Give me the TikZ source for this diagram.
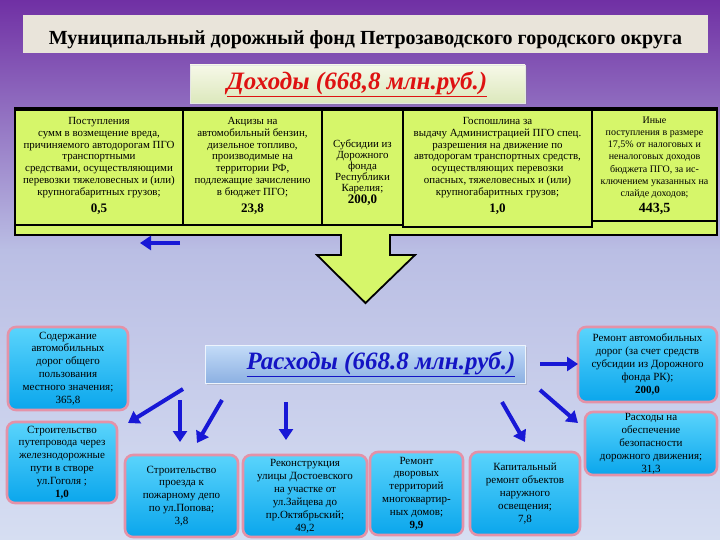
\documentclass[tikz,border=0pt]{standalone}
\usepackage{fontspec}
\setmainfont{Liberation Serif}
\usetikzlibrary{arrows.meta,shadows}
\definecolor{bgtop}{RGB}{112,48,164}
\definecolor{bgmid}{RGB}{186,190,228}
\definecolor{bgbot}{RGB}{214,222,242}
\definecolor{bandcol}{RGB}{214,246,106}
\definecolor{titlecol}{RGB}{233,228,218}
\definecolor{dohtop}{RGB}{246,248,232}
\definecolor{dohbot}{RGB}{220,232,188}
\definecolor{rastop}{RGB}{196,220,248}
\definecolor{rasbot}{RGB}{140,176,226}
\definecolor{cyantop}{RGB}{90,212,252}
\definecolor{cyanbot}{RGB}{10,166,236}
\definecolor{glow}{RGB}{228,146,168}
\definecolor{arrowblue}{RGB}{24,24,214}
\definecolor{redtext}{RGB}{222,18,18}
\definecolor{bluetext}{RGB}{20,20,196}
\begin{document}
\begin{tikzpicture}[x=1pt,y=-1pt,
  titlebox/.style={fill=titlecol, inner sep=0},
  dohbox/.style={top color=dohtop, bottom color=dohbot, draw=white!80!gray, line width=0.6pt, inner sep=0,
     drop shadow={opacity=0.35, shadow xshift=2pt, shadow yshift=-2pt}},
  rasbox/.style={top color=rastop, bottom color=rasbot, draw=white!70!rastop, line width=1pt, inner sep=0,
     drop shadow={opacity=0.25, shadow xshift=1.5pt, shadow yshift=-2pt}},
  inbox/.style={draw=black, line width=1.8pt, fill=bandcol, inner sep=0},
  intext/.style={align=center, inner sep=0, anchor=north, font=\fontsize{10.9}{11.7}\selectfont},
  cbox/.style={draw=glow, line width=2.6pt, rounded corners=8pt, top color=cyantop, bottom color=cyanbot,
     align=center, inner sep=0, font=\fontsize{11}{12.9}\selectfont},
  barrow/.style={draw=arrowblue, line width=4pt, -{Triangle[length=11pt,width=14pt]}}
]
\useasboundingbox (0,0) rectangle (720,540);
% background
\shade[top color=bgtop, bottom color=bgmid] (0,0) rectangle (720,250);
\shade[top color=bgmid, bottom color=bgbot] (0,249) rectangle (720,540);

% title
\node[titlebox, minimum width=685, minimum height=38] (title) at (365.5,34) {};
\node[inner sep=0, font=\fontsize{20}{22}\bfseries\selectfont] (titletext) at (365.5,39.5)
  {Муниципальный дорожный фонд Петрозаводского городского округа};

% income header
\node[dohbox, minimum width=335, minimum height=38] (doh) at (357.5,84) {};
\node[inner sep=0, text=redtext, font=\fontsize{25}{27}\bfseries\itshape\selectfont] (dohtext) at (357,84)
  {\underline{Доходы (668,8 млн.руб.)}};

% yellow band with down arrow
\draw[fill=bandcol, line width=1.8pt, line join=miter]
  (15,108) -- (717,108) -- (717,235) -- (390,235) -- (390,255) -- (415,255) -- (365.5,303)
  -- (317,255) -- (341,255) -- (341,235) -- (15,235) -- cycle;

% income boxes
\node[inbox, minimum width=168, minimum height=115] (in1) at (99,167.5) {};
\node[inbox, minimum width=139, minimum height=115] (in2) at (252.5,167.5) {};
\node[inbox, minimum width=81, minimum height=115] (in3) at (362.5,167.5) {};
\node[inbox, minimum width=189, minimum height=117] (in4) at (497.5,168.5) {};
\node[inbox, minimum width=125, minimum height=111] (in5) at (654.5,165.5) {};

\node[intext] (t1) at (99,117.5) {Поступления\\сумм в возмещение вреда,\\причиняемого автодорогам ПГО\\транспортными\\средствами, осуществляющими\\перевозки тяжеловесных и (или)\\крупногабаритных грузов;\\[6pt]{\fontsize{13}{14}\bfseries\selectfont 0,5}};
\node[intext] (t2) at (252.5,117.5) {Акцизы на\\автомобильный бензин,\\дизельное топливо,\\производимые на\\территории РФ,\\подлежащие зачислению\\в бюджет ПГО;\\[6pt]{\fontsize{13}{14}\bfseries\selectfont 23,8}};
\node[intext, font=\fontsize{10.9}{11}\selectfont] (t3) at (362.5,139) {Субсидии из\\Дорожного\\фонда\\Республики\\Карелия;\\[1pt]{\fontsize{13}{14}\bfseries\selectfont 200,0}};
\node[intext] (t4) at (497.5,117.5) {Госпошлина за\\выдачу Администрацией ПГО спец.\\разрешения на движение по\\автодорогам транспортных средств,\\осуществляющих перевозки\\опасных, тяжеловесных и (или)\\крупногабаритных грузов;\\[6pt]{\fontsize{13}{14}\bfseries\selectfont 1,0}};
\node[intext, font=\fontsize{10}{12.2}\selectfont] (t5) at (654.5,116.5) {Иные\\поступления в размере\\17,5\% от налоговых и\\неналоговых доходов\\бюджета ПГО, за ис-\\ключением указанных на\\слайде доходов;\\[4pt]{\fontsize{14}{15}\bfseries\selectfont 443,5}};

% small left arrow
\coordinate (la1) at (180,243);
\coordinate (la2) at (140,243);
\draw[barrow, line width=3.5pt] (la1) -- (la2);

% expenses header
\node[rasbox, minimum width=320, minimum height=38] (ras) at (365,364) {};
\node[inner sep=0, text=bluetext, font=\fontsize{25}{27}\bfseries\itshape\selectfont] (rastext) at (381,364)
  {\underline{Расходы (668.8 млн.руб.)}};

% expense boxes
\node[cbox, minimum width=120, minimum height=83] (e1) at (68,368.5)
  {Содержание\\автомобильных\\дорог общего\\пользования\\местного значения;\\365,8};
\node[cbox, minimum width=110, minimum height=81] (e2) at (62,462.5)
  {Строительство\\путепровода через\\железнодорожные\\пути в створе\\ул.Гоголя ;\\\textbf{1,0}};
\node[cbox, minimum width=113, minimum height=82] (e3) at (181.5,496)
  {Строительство\\проезда к\\пожарному депо\\по ул.Попова;\\3,8};
\node[cbox, minimum width=124, minimum height=82] (e4) at (305,496)
  {Реконструкция\\улицы Достоевского\\на участке от\\ул.Зайцева до\\пр.Октябрьский;\\49,2};
\node[cbox, minimum width=93, minimum height=83] (e5) at (416.5,493.5)
  {Ремонт\\дворовых\\территорий\\многоквартир-\\ных домов;\\\textbf{9,9}};
\node[cbox, minimum width=110, minimum height=83] (e6) at (525,493.5)
  {Капитальный\\ремонт объектов\\наружного\\освещения;\\7,8};
\node[cbox, minimum width=139, minimum height=75] (e7) at (647.5,364.5)
  {Ремонт автомобильных\\дорог (за счет средств\\субсидии из Дорожного\\фонда РК);\\\textbf{200,0}};
\node[cbox, minimum width=132, minimum height=63] (e8) at (651,443.5) {};
\node[inner sep=0, align=center, font=\fontsize{11}{12.9}\selectfont] (e8text) at (651,444)
  {Расходы на\\обеспечение\\безопасности\\дорожного движения;\\31,3};

% arrow coordinates
\coordinate (s1) at (183,389); \coordinate (d1) at (128,423);
\coordinate (s2) at (180,400); \coordinate (d2) at (180,442);
\coordinate (s3) at (222,400); \coordinate (d3) at (197,443);
\coordinate (s4) at (286,402); \coordinate (d4) at (286,440);
\coordinate (s5) at (502,402); \coordinate (d5) at (525,442);
\coordinate (s6) at (540,364); \coordinate (d6) at (578,364);
\coordinate (s7) at (540,390); \coordinate (d7) at (578,423);
\draw[barrow] (s1) -- (d1);
\draw[barrow] (s2) -- (d2);
\draw[barrow] (s3) -- (d3);
\draw[barrow] (s4) -- (d4);
\draw[barrow] (s5) -- (d5);
\draw[barrow] (s6) -- (d6);
\draw[barrow] (s7) -- (d7);
\end{tikzpicture}
\end{document}
